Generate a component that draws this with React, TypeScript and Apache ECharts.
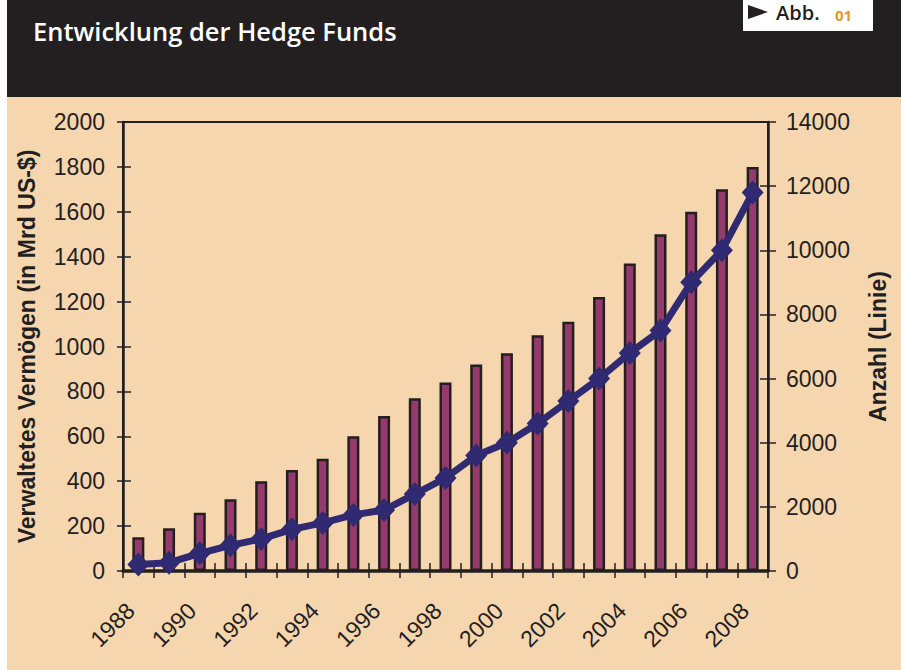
import React, { useEffect, useRef } from "react";
import * as echarts from "echarts";

const years = [
  "1988", "1989", "1990", "1991", "1992", "1993", "1994", "1995", "1996", "1997", "1998",
  "1999", "2000", "2001", "2002", "2003", "2004", "2005", "2006", "2007", "2008",
];
// Verwaltetes Vermögen (Mrd US-$), Balken
const assets = [150, 190, 260, 320, 400, 450, 500, 600, 690, 770, 840, 920, 970, 1050, 1110, 1220, 1370, 1500, 1600, 1700, 1800];
// Anzahl der Hedge Funds, Linie
const funds = [200, 260, 550, 800, 1000, 1300, 1500, 1750, 1900, 2400, 2900, 3600, 4000, 4600, 5300, 6000, 6800, 7500, 9000, 10000, 11800];

const leftAxis = { min: 0, max: 2000, interval: 200 };
const rightAxis = { min: 0, max: 14000, interval: 2000 };

const title = "Entwicklung der Hedge Funds";
const leftName = "Verwaltetes Vermögen (in Mrd US-$)";
const rightName = "Anzahl (Linie)";

const DARK = "#231F20";
const PEACH = "#F5D6AF";
const BAR = "#953A6C";
const LINE = "#302A72";
const ORANGE = "#E3982C";
const FONT = "Liberation Sans";

export default function App() {
  const ref = useRef<HTMLDivElement>(null);
  useEffect(() => {
    if (!ref.current) return;
    const chart = echarts.init(ref.current, undefined, { renderer: "svg" });
    const axisLbl = { color: DARK, fontFamily: FONT, fontSize: 23, formatter: (v: any) => String(v) };
    chart.setOption({
      animation: false,
      backgroundColor: "#ffffff",
      graphic: [
        { type: "rect", z: -100, shape: { x: 7, y: 0, width: 894, height: 97 }, style: { fill: DARK } },
        { type: "rect", z: -100, shape: { x: 7, y: 97, width: 894, height: 573 }, style: { fill: PEACH } },
        {
          type: "text", z: 10, x: 33, y: 31,
          style: {
            text: title, fill: "#ffffff", fontFamily: "Open Sans", fontWeight: 600, fontSize: 25.5,
            textVerticalAlign: "middle",
          },
        },
        { type: "rect", z: 10, shape: { x: 743, y: 0, width: 130, height: 31 }, style: { fill: "#ffffff" } },
        { type: "polygon", z: 11, shape: { points: [[748, 5], [768, 12], [748, 19]] }, style: { fill: DARK } },
        {
          type: "text", z: 11, x: 776, y: 12,
          style: {
            text: "Abb.", fill: DARK, fontFamily: "Open Sans", fontWeight: 600, fontSize: 20,
            textVerticalAlign: "middle",
          },
        },
        {
          type: "text", z: 11, x: 835, y: 15,
          style: {
            text: "01", fill: ORANGE, fontFamily: "Open Sans", fontWeight: 700, fontSize: 15,
            textVerticalAlign: "middle",
          },
        },
      ],
      grid: {
        left: 123, right: 133, top: 122, bottom: 99,
        show: true, borderColor: DARK, borderWidth: 2, backgroundColor: "transparent",
      },
      xAxis: [
        {
          type: "category", data: years, boundaryGap: true,
          axisLine: { lineStyle: { color: DARK, width: 3.5 } },
          axisTick: { show: true, interval: 0, inside: false, length: 7, lineStyle: { color: DARK, width: 1.5 } },
          axisLabel: {
            color: DARK, fontFamily: FONT, fontSize: 23, interval: 1, rotate: 45, margin: 28,
            formatter: (v: string) => "{y|" + v + "}{s|}",
            rich: {
              y: { color: DARK, fontFamily: FONT, fontSize: 23 },
              s: { width: 11, height: 10 },
            },
          },
          splitLine: { show: false },
        },
        {
          type: "category", data: years, boundaryGap: true, position: "bottom",
          axisLine: { show: false },
          axisTick: { show: true, interval: 0, inside: true, length: 8, lineStyle: { color: DARK, width: 1.5 } },
          axisLabel: { show: false },
          splitLine: { show: false },
        },
      ],
      yAxis: [
        {
          type: "value", position: "left", ...leftAxis,
          name: leftName, nameLocation: "middle", nameRotate: 90, nameGap: 85,
          nameTextStyle: { color: DARK, fontFamily: FONT, fontSize: 23, fontWeight: "bold" },
          axisLine: { show: true, lineStyle: { color: DARK, width: 2.5 } },
          axisTick: { show: true, inside: false, length: 6, lineStyle: { color: DARK, width: 1.5 } },
          axisLabel: { ...axisLbl, margin: 18 },
          splitLine: { show: false },
        },
        {
          type: "value", position: "right", ...rightAxis,
          name: rightName, nameLocation: "middle", nameRotate: 90, nameGap: 98,
          nameTextStyle: { color: DARK, fontFamily: FONT, fontSize: 23, fontWeight: "bold" },
          axisLine: { show: true, lineStyle: { color: DARK, width: 2.5 } },
          axisTick: { show: true, inside: false, length: 8, lineStyle: { color: DARK, width: 1.5 } },
          axisLabel: { ...axisLbl, margin: 18 },
          splitLine: { show: false },
        },
        {
          type: "value", position: "left", ...leftAxis, offset: 0,
          axisLine: { show: false },
          axisTick: { show: true, inside: true, length: 8, lineStyle: { color: DARK, width: 1.5 } },
          axisLabel: { show: false },
          splitLine: { show: false },
        },
        {
          type: "value", position: "right", ...rightAxis, offset: 0,
          axisLine: { show: false },
          axisTick: { show: true, inside: true, length: 8, lineStyle: { color: DARK, width: 1.5 } },
          axisLabel: { show: false },
          splitLine: { show: false },
        },
      ],
      series: [
        {
          type: "bar", name: leftName, data: assets, xAxisIndex: 0, yAxisIndex: 0,
          barWidth: 12,
          itemStyle: { color: BAR, borderColor: DARK, borderWidth: 2.5 },
          z: 2,
        },
        {
          type: "line", name: rightName, data: funds, xAxisIndex: 0, yAxisIndex: 1,
          symbol: "diamond", symbolSize: [22, 24], showSymbol: true, showAllSymbol: true,
          lineStyle: { color: LINE, width: 7 },
          itemStyle: { color: LINE },
          z: 3,
        },
      ],
    });
    return () => chart.dispose();
  }, []);
  return (
    <div style={{ position: "absolute", left: 0, top: 0, width: 901, height: 670 }}>
      <div ref={ref} style={{ width: 901, height: 670 }} />
    </div>
  );
}
